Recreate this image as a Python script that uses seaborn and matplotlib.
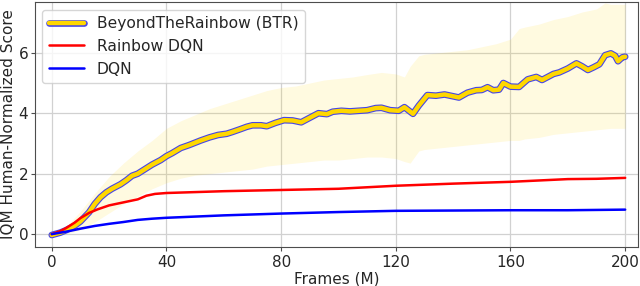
import matplotlib
matplotlib.use('Agg')
import matplotlib.pyplot as plt
import matplotlib.patheffects as pe
import pandas as pd
import seaborn as sns

# values (frames in millions)
btr_frames = [0, 3, 5, 8, 10, 13, 15, 17, 19, 21, 24, 26, 28, 30, 32, 35, 38, 40, 42, 45,
              48, 52, 55, 58, 61, 63, 66, 68, 70, 73, 75, 78, 81, 84, 87, 90, 93, 96, 98,
              101, 104, 107, 110, 113, 115, 118, 121, 123, 126, 128, 131, 134, 137, 140,
              142, 145, 148, 150, 152, 154, 156, 157.5, 160, 163, 166, 169, 171, 173, 175,
              177, 180, 183, 185, 187, 189, 191, 193, 195, 196.5, 197.5, 199, 200]
btr_score = [-0.03, 0.05, 0.13, 0.28, 0.42, 0.72, 1.0, 1.22, 1.38, 1.5, 1.65, 1.78, 1.93, 2.0,
             2.12, 2.3, 2.45, 2.58, 2.68, 2.85, 2.95, 3.1, 3.2, 3.28, 3.32, 3.38, 3.48, 3.55,
             3.6, 3.6, 3.57, 3.68, 3.77, 3.76, 3.7, 3.85, 4.0, 3.97, 4.05, 4.08, 4.06, 4.08,
             4.1, 4.17, 4.18, 4.1, 4.08, 4.2, 3.98, 4.25, 4.6, 4.58, 4.62, 4.56, 4.52, 4.68,
             4.76, 4.77, 4.86, 4.76, 4.78, 5.0, 4.88, 4.87, 5.12, 5.2, 5.1, 5.2, 5.3, 5.35,
             5.48, 5.65, 5.55, 5.43, 5.52, 5.62, 5.92, 5.98, 5.9, 5.72, 5.85, 5.87]

band_frames = [0, 5, 10, 15, 20, 25, 30, 35, 40, 45, 50, 55, 60, 65, 70, 75, 80, 85, 90, 95,
               100, 105, 110, 115, 120, 123, 125, 128, 130, 135, 140, 145, 150, 155, 160,
               163, 165, 170, 175, 180, 185, 190, 193, 195, 200]
btr_upper = [0.02, 0.25, 0.75, 1.35, 1.9, 2.35, 2.75, 3.1, 3.5, 3.75, 3.95, 4.15, 4.3, 4.45,
             4.6, 4.75, 4.85, 4.9, 5.0, 5.1, 5.15, 5.2, 5.28, 5.35, 5.3, 5.2, 5.55, 5.9,
             5.95, 6.0, 6.05, 6.1, 6.2, 6.3, 6.45, 6.8, 6.85, 6.95, 7.1, 7.2, 7.35, 7.45,
             7.65, 7.6, 7.6]
btr_lower = [-0.05, 0.0, 0.15, 0.4, 0.7, 1.0, 1.25, 1.5, 1.7, 1.85, 1.95, 2.0, 2.05, 2.1,
             2.15, 2.25, 2.3, 2.35, 2.4, 2.45, 2.45, 2.5, 2.55, 2.55, 2.5, 2.4, 2.35, 2.75,
             2.8, 2.85, 2.9, 2.95, 3.0, 3.05, 3.1, 3.1, 3.15, 3.2, 3.3, 3.35, 3.4, 3.45,
             3.48, 3.5, 3.5]

rainbow_frames = [0, 3, 5, 8, 10, 13, 16, 20, 25, 30, 33, 36, 40, 50, 60, 80, 100, 120,
                  140, 160, 180, 190, 200]
rainbow_score = [0.0, 0.1, 0.2, 0.38, 0.53, 0.7, 0.82, 0.95, 1.05, 1.15, 1.27, 1.33, 1.36,
                 1.39, 1.42, 1.46, 1.5, 1.6, 1.67, 1.73, 1.82, 1.83, 1.86]

dqn_frames = [0, 5, 10, 15, 20, 25, 30, 35, 40, 50, 60, 80, 100, 120, 140, 160, 180, 200]
dqn_score = [0.0, 0.08, 0.18, 0.27, 0.34, 0.4, 0.47, 0.51, 0.54, 0.58, 0.62, 0.68, 0.73,
             0.77, 0.78, 0.79, 0.79, 0.81]

dfBtr = pd.DataFrame({'frames': btr_frames, 'score': btr_score})
dfRainbow = pd.DataFrame({'frames': rainbow_frames, 'score': rainbow_score})
dfDqn = pd.DataFrame({'frames': dqn_frames, 'score': dqn_score})

sns.set_style('ticks')
plt.rcParams['font.family'] = ['DejaVu Sans']

fig, ax = plt.subplots(1, 1, figsize=(6.4, 2.86), dpi=100)
fig.subplots_adjust(left=0.054, right=0.997, top=0.993, bottom=0.136)

ax.fill_between(band_frames, btr_lower, btr_upper, color='#FFD700', alpha=0.12, linewidth=0)

sns.lineplot(x='frames', y='score', data=dfBtr, color='#FFD700', linewidth=3.2, ax=ax,
             label='BeyondTheRainbow (BTR)')
btr_line = ax.get_lines()[-1]
btr_line.set_path_effects([pe.Stroke(linewidth=4.8, foreground='#4646e6'), pe.Normal()])
sns.lineplot(x='frames', y='score', data=dfRainbow, color='red', linewidth=1.8, ax=ax,
             label='Rainbow DQN')
sns.lineplot(x='frames', y='score', data=dfDqn, color='blue', linewidth=1.8, ax=ax,
             label='DQN')

ax.set_xlim(-6, 204.5)
ax.set_ylim(-0.43, 7.68)
ax.set_xticks([0, 40, 80, 120, 160, 200])
ax.set_yticks([0, 2, 4, 6])
ax.grid(True, color='0.82', linewidth=0.9)
ax.set_axisbelow(True)
ax.tick_params(labelsize=11, length=3, color='0.3')
ax.tick_params(axis='x', pad=2.5)
ax.tick_params(axis='y', pad=1.5)
ax.set_xlabel('Frames (M)', fontsize=11, labelpad=1)
ax.set_ylabel('IQM Human-Normalized Score', fontsize=11, labelpad=1.5)
for s in ax.spines.values():
    s.set_color('0.3')

ax.legend(loc='upper left', fontsize=11.2, frameon=True, handlelength=2.3)

plt.savefig('out.png', dpi=100)
